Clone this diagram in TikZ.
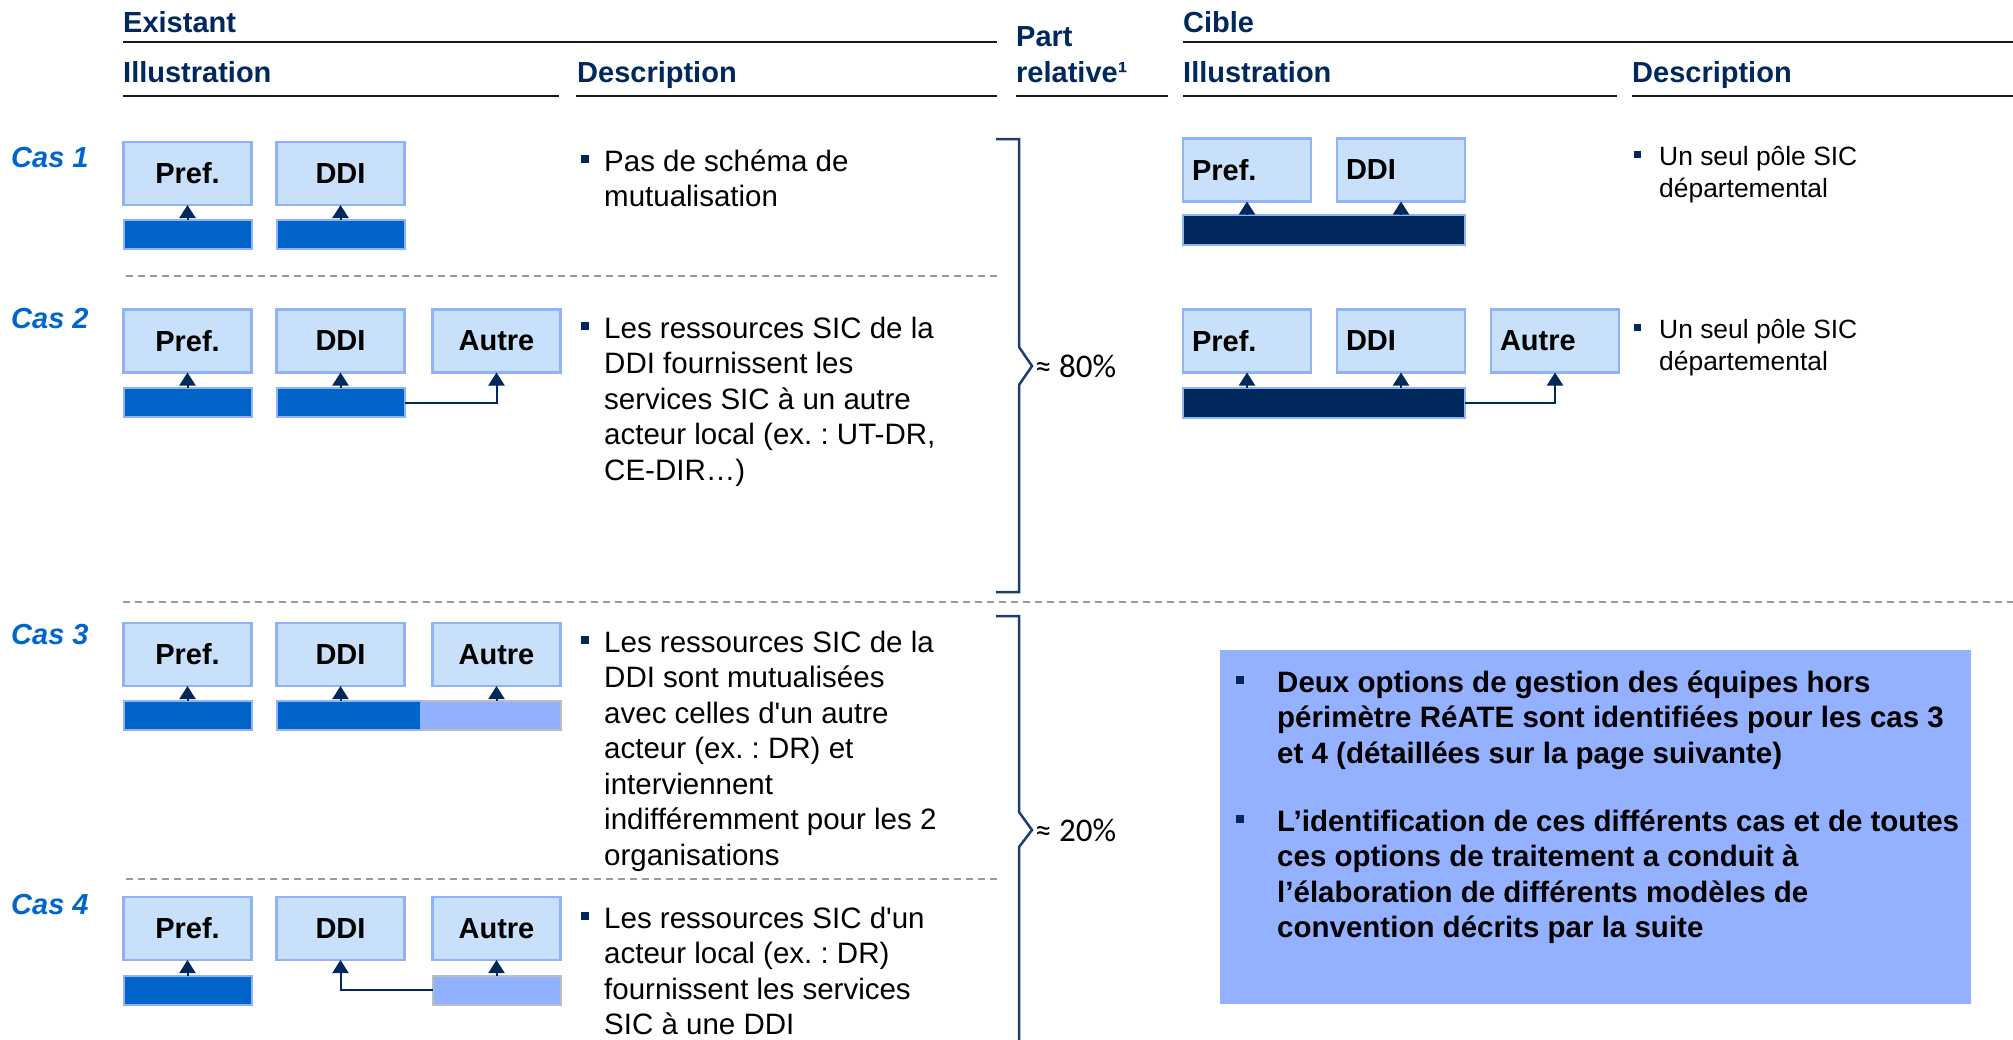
\documentclass[tikz,border=0pt]{standalone}
\usepackage{fontspec}
\usetikzlibrary{arrows.meta}
\newfontfamily\arial{Liberation Sans}
\newfontfamily\calib{Carlito}
\newcommand\myfs[2]{\fontsize{#1}{#2}\selectfont}
\definecolor{navy}{RGB}{0,40,92}
\definecolor{casblue}{RGB}{0,102,204}
\definecolor{boxfill}{RGB}{200,224,250}
\definecolor{boxline}{RGB}{143,178,248}
\definecolor{darkbar}{RGB}{0,100,200}
\definecolor{lightbar}{RGB}{145,176,255}
\definecolor{grayline}{RGB}{190,190,190}
\definecolor{bluebox}{RGB}{147,177,254}
\definecolor{brknavy}{RGB}{30,60,115}
\newcommand\bulA{\llap{\textcolor{navy}{\rule[8pt]{8pt}{8pt}}\hspace{15pt}}}
\newcommand\bulC{\llap{\textcolor{navy}{\rule[7pt]{7pt}{7pt}}\hspace{18pt}}}
\newcommand\bulN{\llap{\textcolor{navy}{\rule[8pt]{8pt}{8pt}}\hspace{33pt}}}
\frenchspacing
\begin{document}
\begin{tikzpicture}[x=1pt,y=-1pt,
  hdr/.style={anchor=base west, inner sep=0, font=\arial\bfseries\myfs{29}{35}, text=navy},
  cas/.style={anchor=base west, inner sep=0, font=\arial\bfseries\itshape\myfs{29}{35}, text=casblue},
  ebox/.style={draw=boxline, fill=boxfill, line width=2.5pt, minimum width=128pt, minimum height=63pt, inner sep=0, outer sep=0, font=\arial\bfseries\myfs{29}{35}},
  cbox/.style={ebox, text width=110pt, align=left},
  dbar/.style={draw=boxline, fill=darkbar, line width=2pt, minimum height=29pt, inner sep=0, outer sep=0},
  lbar/.style={draw=grayline, fill=lightbar, line width=2pt, minimum height=29pt, inner sep=0, outer sep=0},
  nbar/.style={draw=boxline, fill=navy, line width=2pt, minimum height=30pt, inner sep=0, outer sep=0},
  desc/.style={anchor=north west, inner sep=0, align=left, font=\arial\frenchspacing\myfs{29.5}{35.5}},
  cdesc/.style={desc, font=\arial\frenchspacing\myfs{26.4}{32}},
  note/.style={desc, font=\arial\bfseries\frenchspacing\myfs{29.5}{35.5}},
  arr/.style={draw=navy, line width=2pt, -{Triangle[length=13pt,width=16pt]}},
  rul/.style={line width=2.5pt, draw=black!90},
  dsh/.style={draw=black!40, line width=2pt, dash pattern=on 7pt off 5pt},
  brk/.style={draw=brknavy, line width=2.5pt},
  pct/.style={anchor=west, inner sep=0, font=\calib\myfs{33}{38}}
]
\useasboundingbox (0,0) rectangle (2013,1039);

% ---------- headers ----------
\node[hdr] (hExist) at (123,32) {Existant};
\node[hdr] (hIll1) at (123,82) {Illustration};
\node[hdr] (hDesc1) at (577,82) {Description};
\node[hdr] (hPart) at (1016,46) {Part};
\node[hdr] (hRel) at (1016,82) {relative¹};
\node[hdr] (hCible) at (1183,32) {Cible};
\node[hdr] (hIll2) at (1183,82) {Illustration};
\node[hdr] (hDesc2) at (1632,82) {Description};
\draw[rul] (123,42) -- (997,42);
\draw[rul] (1183,42) -- (2013,42);
\draw[rul] (123,96) -- (559,96);
\draw[rul] (576,96) -- (997,96);
\draw[rul] (1016,96) -- (1168,96);
\draw[rul] (1183,96) -- (1617,96);
\draw[rul] (1632,96) -- (2013,96);

% ---------- separators ----------
\draw[dsh] (126,276) -- (997,276);
\draw[dsh] (123,602) -- (2013,602);
\draw[dsh] (126,879) -- (997,879);

% ---------- case labels ----------
\node[cas] (cas1) at (11,167) {Cas 1};
\node[cas] (cas2) at (11,328) {Cas 2};
\node[cas] (cas3) at (11,644) {Cas 3};
\node[cas] (cas4) at (11,914) {Cas 4};

% ---------- Existant, cas 1 ----------
\node[ebox] (e1p) at (187.5,173.5) {Pref.};
\node[ebox] (e1d) at (340.5,173.5) {DDI};
\node[dbar, minimum width=128pt] (e1pb) at (187.5,234.5) {};
\node[dbar, minimum width=128pt] (e1db) at (340.5,234.5) {};
\draw[arr] (e1pb.north) -- (e1p.south);
\draw[arr] (e1db.north) -- (e1d.south);

% ---------- Existant, cas 2 ----------
\node[ebox] (e2p) at (187.5,341) {Pref.};
\node[ebox] (e2d) at (340.5,341) {DDI};
\node[ebox] (e2a) at (496.5,341) {Autre};
\node[dbar, minimum width=128pt] (e2pb) at (187.5,402.5) {};
\node[dbar, minimum width=128pt] (e2db) at (340.5,402.5) {};
\draw[arr] (e2pb.north) -- (e2p.south);
\draw[arr] (e2db.north) -- (e2d.south);
\draw[arr] (e2db.east) -| (e2a.south);

% ---------- Existant, cas 3 ----------
\node[ebox] (e3p) at (187.5,654.5) {Pref.};
\node[ebox] (e3d) at (340.5,654.5) {DDI};
\node[ebox] (e3a) at (496.5,654.5) {Autre};
\node[dbar, minimum width=128pt] (e3pb) at (187.5,715.5) {};
\node[lbar, minimum width=140pt] (e3ab) at (491,715.5) {};
\node[dbar, minimum width=144pt] (e3db) at (349,715.5) {};
\draw[arr] (e3pb.north) -- (e3p.south);
\draw[arr] (e3d.south |- e3db.north) -- (e3d.south);
\draw[arr] (e3a.south |- e3ab.north) -- (e3a.south);

% ---------- Existant, cas 4 ----------
\node[ebox] (e4p) at (187.5,928.5) {Pref.};
\node[ebox] (e4d) at (340.5,928.5) {DDI};
\node[ebox] (e4a) at (496.5,928.5) {Autre};
\node[dbar, minimum width=128pt] (e4pb) at (187.5,990) {};
\node[lbar, minimum width=128pt] (e4ab) at (496.5,990) {};
\draw[arr] (e4pb.north) -- (e4p.south);
\draw[arr] (e4ab.north) -- (e4a.south);
\draw[arr] (e4ab.west) -| (e4d.south);

% ---------- Existant descriptions ----------
\node[desc] (d1) at (604,146) {\strut\bulA Pas de schéma de\\mutualisation};
\node[desc] (d2) at (604,313) {\strut\bulA Les ressources SIC de la\\DDI fournissent les\\services SIC à un autre\\acteur local (ex. : UT-DR,\\CE-DIR…)};
\node[desc] (d3) at (604,627) {\strut\bulA Les ressources SIC de la\\DDI sont mutualisées\\avec celles d'un autre\\acteur (ex. : DR) et\\interviennent\\indifféremment pour les 2\\organisations};
\node[desc] (d4) at (604,903) {\strut\bulA Les ressources SIC d'un\\acteur local (ex. : DR)\\fournissent les services\\SIC à une DDI};

% ---------- brackets ----------
\draw[brk] (996,139) -- (1019,139) -- (1019,347) -- (1032,366) -- (1019,385) -- (1019,592) -- (996,592);
\draw[brk] (996,616) -- (1019,616) -- (1019,812) -- (1032,830) -- (1019,847) -- (1019,1045);
\node[pct] (p80) at (1035,366) {≈ 80\%};
\node[pct] (p20) at (1035,830) {≈ 20\%};

% ---------- Cible, cas 1 ----------
\node[cbox] (c1p) at (1247,170) {Pref.};
\node[cbox] (c1d) at (1401,170) {DDI};
\node[nbar, minimum width=282pt] (c1b) at (1324,230) {};
\draw[arr] (c1p.south |- c1b.north) -- (c1p.south);
\draw[arr] (c1d.south |- c1b.north) -- (c1d.south);

% ---------- Cible, cas 2 ----------
\node[cbox] (c2p) at (1247,341) {Pref.};
\node[cbox] (c2d) at (1401,341) {DDI};
\node[cbox] (c2a) at (1555,341) {Autre};
\node[nbar, minimum width=282pt] (c2b) at (1324,402.5) {};
\draw[arr] (c2p.south |- c2b.north) -- (c2p.south);
\draw[arr] (c2d.south |- c2b.north) -- (c2d.south);
\draw[arr] (c2b.east) -| (c2a.south);

% ---------- Cible descriptions ----------
\node[cdesc] (cd1) at (1659,142.6) {\strut\bulC Un seul pôle SIC\\départemental};
\node[cdesc] (cd2) at (1659,315.6) {\strut\bulC Un seul pôle SIC\\départemental};

% ---------- note box ----------
\node[fill=bluebox, anchor=north west, minimum width=751pt, minimum height=354pt, inner sep=0] (nbox) at (1220,650) {};
\node[note] (n1) at (1277,667) {\strut\bulN Deux options de gestion des équipes hors\\périmètre RéATE sont identifiées pour les cas 3\\et 4 (détaillées sur la page suivante)};
\node[note] (n2) at (1277,806) {\strut\bulN L’identification de ces différents cas et de toutes\\ces options de traitement a conduit à\\l’élaboration de différents modèles de\\convention décrits par la suite};
\end{tikzpicture}
\end{document}
